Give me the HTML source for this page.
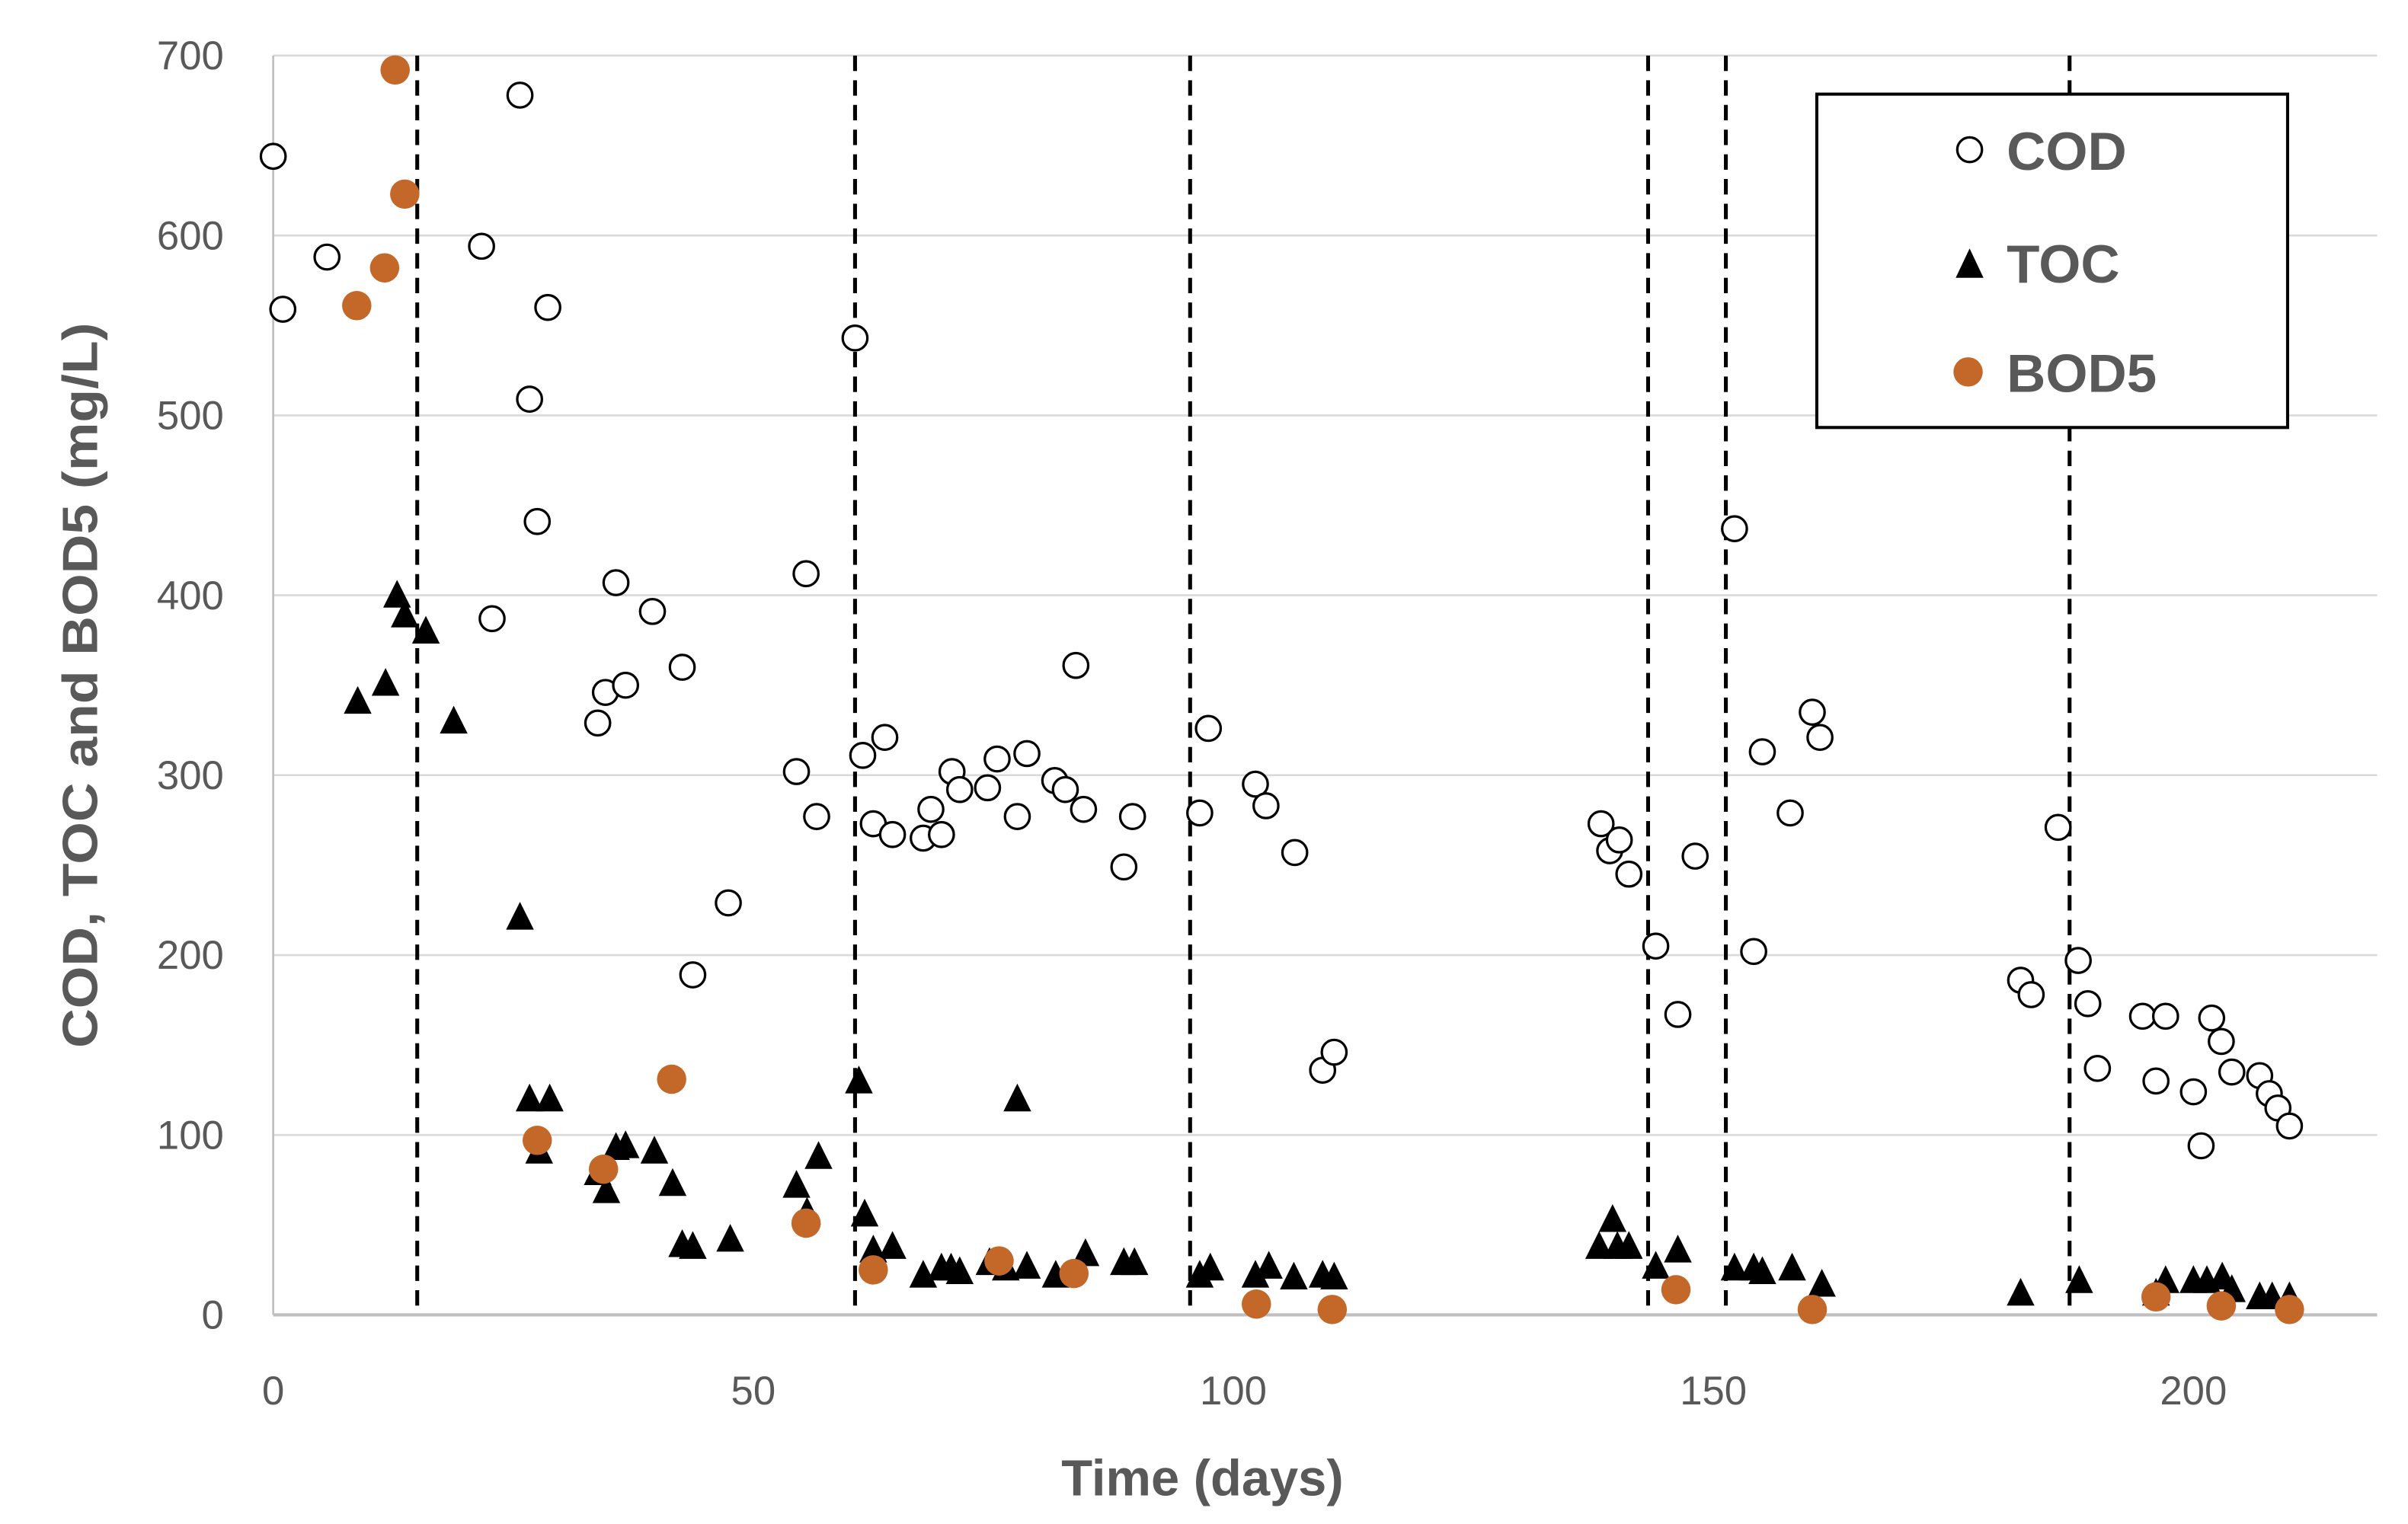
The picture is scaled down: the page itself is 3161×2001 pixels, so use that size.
<!DOCTYPE html>
<html><head><meta charset="utf-8"><style>html,body{margin:0;padding:0;background:#fff}svg{display:block}</style></head>
<body>
<svg id="chart" width="3161" height="2001" viewBox="0 0 1560 987.5" preserveAspectRatio="none" xmlns="http://www.w3.org/2000/svg" font-family="'Liberation Sans', sans-serif">
<g id="grid"></g>
<g id="axes"></g>
<g id="dashes"></g>
<g id="marks"></g>
<text x="779" y="969" text-anchor="middle" font-size="33" font-weight="bold" fill="#595959">Time (days)</text>
<text transform="translate(63,444) rotate(-90)" text-anchor="middle" font-size="32" font-weight="bold" fill="#595959" textLength="470" lengthAdjust="spacingAndGlyphs">COD, TOC and BOD5 (mg/L)</text>
<g>
<rect x="1177" y="61" width="305" height="216" fill="#fff" stroke="#000" stroke-width="2"/>
<g><circle cx="1276" cy="97" r="8" fill="none" stroke="#000" stroke-width="1.6"/><text x="1300" y="110" font-size="35" font-weight="bold" fill="#595959">COD</text></g>
<g><polygon points="1276,161 1267,180 1285,180" fill="#000"/><text x="1300" y="183" font-size="35" font-weight="bold" fill="#595959">TOC</text></g>
<g><circle cx="1275" cy="241" r="9.5" fill="#c4682a"/><text x="1300" y="254" font-size="35" font-weight="bold" fill="#595959">BOD5</text></g>
</g>
</svg>
<script>
const yTicks=[0,100,200,300,400,500,600,700];
const xTicks=[0,50,100,150,200];
const phaseDays=[15,60.6,95.5,143.2,151.3,187.1];
const codDays=[0,1,5.6,21.7,22.8,25.7,26.7,27.5,28.6,33.8,34.6,35.7,36.7,39.5,42.6,43.7,47.4,54.5,55.5,56.6,60.6,61.4,62.5,63.7,64.5,67.7,68.5,69.6,70.7,71.5,74.4,75.4,77.5,78.5,81.4,82.5,83.6,84.4,88.6,89.5,96.5,97.4,102.3,103.4,106.4,109.3,110.5,138.3,139.2,140.2,141.2,144,146.3,148.1,152.2,154.2,155.1,158,160.3,161.1,182,183.1,185.9,188,189,190,194.7,196.1,197.1,200,200.8,201.9,202.9,204,206.9,207.9,208.8,210];
const codValues=[644,559,588,594,387,678,509,441,560,329,346,407,350,391,360,189,229,302,412,277,543,311,273,321,267,265,281,267,302,292,293,309,277,312,297,292,361,281,249,277,279,326,295,283,257,136,146,273,258,264,245,205,167,255,437,202,313,279,335,321,186,178,271,197,173,137,166,130,166,124,94,165,152,135,133,123,115,105];
const tocDays=[8.8,11.7,12.9,13.7,15.9,18.8,25.7,26.7,27.7,28.8,33.8,34.7,35.7,36.7,39.7,41.6,42.6,43.7,47.6,54.5,55.6,56.8,61,61.6,62.5,64.5,67.7,69.6,70.6,71.5,74.6,76.3,77.5,78.5,81.5,84.6,88.6,89.7,96.5,97.6,102.3,103.7,106.3,109.3,110.5,138.1,139.5,140,141.2,144,146.3,152.2,154.2,155.1,158.2,161.3,182,188.1,196.1,197.1,200,201.4,203,204,206.9,208.2,210];
const tocValues=[341,351,400,389,380,330,221,120,91,120,79,69,93,94,91,73,39,38,42,72,57,88,130,56,36,38,22,26,26,24,29,26,120,27,22,34,29,29,22,26,22,27,21,22,21,38,53,38,38,27,36,26,26,24,26,17,12,19,12,19,19,19,21,14,10,10,10];
const bodDays=[12.7,13.7,11.6,8.7,27.5,34.4,41.5,55.5,62.5,75.6,83.4,102.4,110.3,146.1,160.3,196.1,202.9,210];
const bodValues=[692,623,582,561,97,81,131,51,25,30,23,6,3,14,3,10,5,3];

const NS='http://www.w3.org/2000/svg';
const X0=177,X1=1540,Y0=852,PXD=6.22,PXV=1.1657;
function xs(d){return X0+d*PXD;}
function ys(v){return Y0-v*PXV;}
function mk(tag,attrs,parent){const e=document.createElementNS(NS,tag);for(const k in attrs)e.setAttribute(k,attrs[k]);parent.appendChild(e);return e;}
const grid=document.getElementById('grid'),axes=document.getElementById('axes'),dashes=document.getElementById('dashes'),marks=document.getElementById('marks');
yTicks.forEach(v=>{
  if(v>0){const l=mk('line',{x1:X0,x2:X1,y1:ys(v),y2:ys(v),stroke:'#d9d9d9','stroke-width':1.3},grid);
  
  }
  const t=mk('text',{x:145,y:ys(v)+9,'text-anchor':'end','font-size':26,fill:'#595959'},axes);t.textContent=v;
  
  
});
xTicks.forEach(d=>{
  const t=mk('text',{x:xs(d),y:910,'text-anchor':'middle','font-size':26,fill:'#595959'},axes);t.textContent=d;
  
  
});
const xa=mk('line',{x1:X0,x2:X1,y1:Y0,y2:Y0,stroke:'#bfbfbf','stroke-width':2},axes);


const ya=mk('line',{x1:X0,x2:X0,y1:36,y2:Y0,stroke:'#bfbfbf','stroke-width':1.3},axes);


phaseDays.forEach(d=>{
  const l=mk('line',{x1:xs(d),x2:xs(d),y1:36,y2:Y0,stroke:'#000','stroke-width':2.5,'stroke-dasharray':'10 6'},dashes);
  
  
});
codDays.forEach((d,i)=>{
  const c=mk('circle',{cx:xs(d),cy:ys(codValues[i]),r:8,fill:'#fff',stroke:'#000','stroke-width':1.6},marks);
  
  
});
tocDays.forEach((d,i)=>{
  const x=xs(d),y=ys(tocValues[i]);
  const p=mk('polygon',{points:`${x},${y-10} ${x-9},${y+8} ${x+9},${y+8}`,fill:'#000'},marks);
  
  
});
bodDays.forEach((d,i)=>{
  const c=mk('circle',{cx:xs(d),cy:ys(bodValues[i]),r:9.5,fill:'#c4682a'},marks);
  
  
});
</script>
</body></html>
